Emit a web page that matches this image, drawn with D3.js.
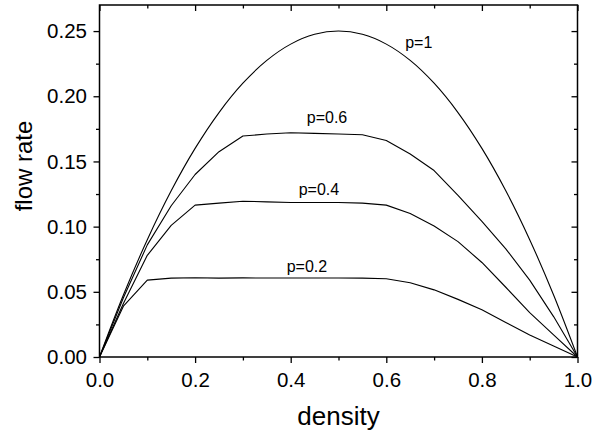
<!DOCTYPE html>
<html>
<head>
<meta charset="utf-8">
<script src="https://cdn.jsdelivr.net/npm/d3@7"></script>
<style>
  html, body { margin: 0; padding: 0; background: #fff; }
  svg { display: block; }
  text { font-family: "Liberation Sans", Arial, sans-serif; fill: #000; }
</style>
</head>
<body>
<svg id="chart" width="598" height="434"></svg>
<script>
// ---- data ----
const density = [0, 0.05, 0.1, 0.15, 0.2, 0.25, 0.3, 0.35, 0.4, 0.45, 0.5,
                 0.55, 0.6, 0.65, 0.7, 0.75, 0.8, 0.85, 0.9, 0.95, 1.0];
const flowP1  = [0, 0.0475, 0.09, 0.1275, 0.16, 0.1875, 0.21, 0.2275, 0.24, 0.2475, 0.25,
                 0.2475, 0.24, 0.2275, 0.21, 0.1875, 0.16, 0.1275, 0.09, 0.0475, 0];
const flowP06 = [0, 0.0455, 0.086, 0.116, 0.140, 0.1575, 0.1695, 0.171, 0.172, 0.1715, 0.171,
                 0.1705, 0.166, 0.1557, 0.143, 0.124, 0.104, 0.083, 0.059, 0.031, 0];
const flowP04 = [0, 0.041, 0.078, 0.101, 0.1165, 0.118, 0.1195, 0.119, 0.1185, 0.1185, 0.1185,
                 0.118, 0.1165, 0.110, 0.1005, 0.0885, 0.0725, 0.0535, 0.034, 0.017, 0];
const flowP02 = [0, 0.039, 0.059, 0.0605, 0.0608, 0.0605, 0.0607, 0.0606, 0.0606, 0.0606, 0.0606,
                 0.0605, 0.060, 0.057, 0.0515, 0.0442, 0.0362, 0.0265, 0.0168, 0.0084, 0];
const seriesNames = ["p=1", "p=0.6", "p=0.4", "p=0.2"];
const xTicks = [0, 0.2, 0.4, 0.6, 0.8, 1.0];
const yTicks = [0, 0.05, 0.1, 0.15, 0.2, 0.25];
const xMinorTicks = [0.1, 0.3, 0.5, 0.7, 0.9];
const yMinorTicks = [0.025, 0.075, 0.125, 0.175, 0.225];

// label anchors (in data coordinates)
const labelX = [0.668, 0.476, 0.459, 0.434];
const labelY = [0.237, 0.1795, 0.124, 0.0654];

// ---- layout ----
const W = 598, H = 434;
const margin = { left: 99.5, right: 20.5, top: 5, bottom: 77 };
const svg = d3.select("#chart");

const x = d3.scaleLinear().domain([0, 1]).range([margin.left, W - margin.right]);
const y = d3.scaleLinear().domain([0, 0.27]).range([H - margin.bottom, margin.top]);

const seriesValues = [flowP1, flowP06, flowP04, flowP02];

const smoothLine = d3.line().x(d => x(d[0])).y(d => y(d[1])).curve(d3.curveCatmullRom.alpha(0.5));
const line = d3.line().x(d => x(d[0])).y(d => y(d[1]));

const plot = svg.append("g");
seriesValues.forEach((vals, k) => {
  plot.append("path")
    .datum(density.map((d, i) => [d, vals[i]]))
    .attr("d", k === 0 ? smoothLine : line)
    .attr("fill", "none")
    .attr("stroke", "#000")
    .attr("stroke-width", 1.1)
    .attr("stroke-linejoin", "round");
});

// series labels
seriesNames.forEach((name, i) => {
  svg.append("text")
    .attr("x", x(labelX[i]))
    .attr("y", y(labelY[i]))
    .attr("text-anchor", "middle")
    .style("font-size", "16px")
    .text(name);
});

// ---- axes ----
const fmtX = d3.format(".1f");
const fmtY = d3.format(".2f");
const tickFont = "20.5px";

function styleAxis(g) {
  g.select(".domain").remove();
  g.selectAll(".tick line").attr("stroke", "#000").attr("stroke-width", 1.3);
  g.selectAll(".tick text").style("font-size", tickFont).style("font-family", '"Liberation Sans", Arial, sans-serif');
}

// bottom major
svg.append("g").attr("transform", `translate(0,${y(0)})`)
  .call(d3.axisBottom(x).tickValues(xTicks).tickFormat(fmtX).tickSize(6).tickPadding(9))
  .call(styleAxis);
// bottom minor
svg.append("g").attr("transform", `translate(0,${y(0)})`)
  .call(d3.axisBottom(x).tickValues(xMinorTicks).tickFormat("").tickSize(3.5))
  .call(styleAxis);
// top (inward)
svg.append("g").attr("transform", `translate(0,${margin.top})`)
  .call(d3.axisBottom(x).tickValues(xTicks).tickFormat("").tickSize(6))
  .call(styleAxis);
svg.append("g").attr("transform", `translate(0,${margin.top})`)
  .call(d3.axisBottom(x).tickValues(xMinorTicks).tickFormat("").tickSize(3.5))
  .call(styleAxis);

// left major
svg.append("g").attr("transform", `translate(${x(0)},0)`)
  .call(d3.axisLeft(y).tickValues(yTicks).tickFormat(fmtY).tickSize(6).tickPadding(6.5))
  .call(styleAxis);
svg.append("g").attr("transform", `translate(${x(0)},0)`)
  .call(d3.axisLeft(y).tickValues(yMinorTicks).tickFormat("").tickSize(3.5))
  .call(styleAxis);
// right (inward)
svg.append("g").attr("transform", `translate(${x(1)},0)`)
  .call(d3.axisLeft(y).tickValues(yTicks).tickFormat("").tickSize(6))
  .call(styleAxis);
svg.append("g").attr("transform", `translate(${x(1)},0)`)
  .call(d3.axisLeft(y).tickValues(yMinorTicks).tickFormat("").tickSize(3.5))
  .call(styleAxis);

// frame
svg.append("rect")
  .attr("x", x(0)).attr("y", margin.top)
  .attr("width", x(1) - x(0)).attr("height", y(0) - margin.top)
  .attr("fill", "none").attr("stroke", "#000").attr("stroke-width", 1.5);

// axis titles
svg.append("text")
  .attr("x", (x(0) + x(1)) / 2)
  .attr("y", 425)
  .attr("text-anchor", "middle")
  .style("font-size", "26px")
  .text("density");

svg.append("text")
  .attr("transform", `translate(32,166) rotate(-90)`)
  .attr("text-anchor", "middle")
  .style("font-size", "24px")
  .text("flow rate");
</script>
</body>
</html>
